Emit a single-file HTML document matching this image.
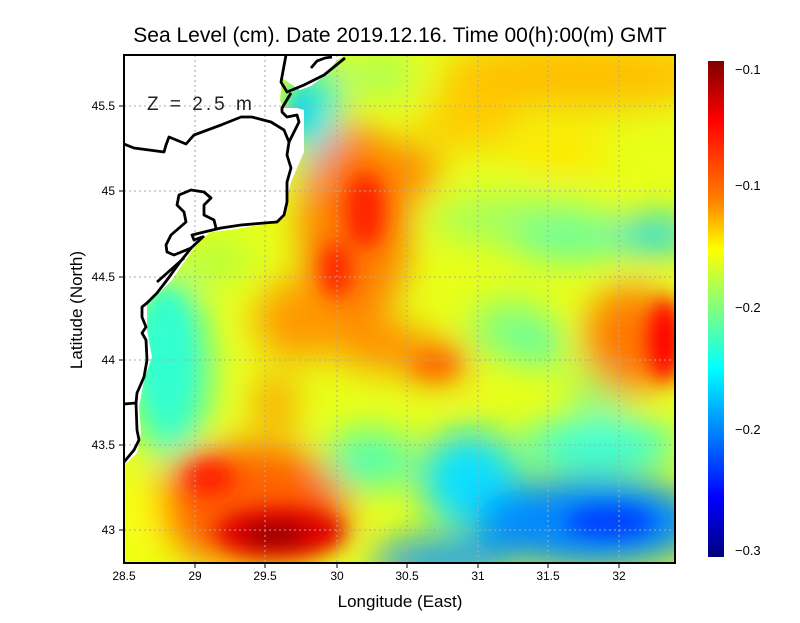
<!DOCTYPE html>
<html><head><meta charset="utf-8"><style>
html,body{margin:0;padding:0;background:#fff;}
body{width:800px;height:618px;overflow:hidden;font-family:"Liberation Sans",sans-serif;}
</style></head><body>
<svg width="800" height="618" xmlns="http://www.w3.org/2000/svg" font-family="Liberation Sans, sans-serif">
<defs>
<clipPath id="pc"><rect x="124" y="55" width="551" height="508"/></clipPath>
<filter id="b" x="-50%" y="-50%" width="200%" height="200%"><feGaussianBlur stdDeviation="18"/></filter>
<filter id="b2" x="-50%" y="-50%" width="200%" height="200%"><feGaussianBlur stdDeviation="10"/></filter>
<linearGradient id="cb" x1="0" y1="0" x2="0" y2="1">
<stop offset="0" stop-color="#7f0000"/>
<stop offset="0.12" stop-color="#ff0000"/>
<stop offset="0.28" stop-color="#ff8000"/>
<stop offset="0.38" stop-color="#ffff00"/>
<stop offset="0.5" stop-color="#80ff80"/>
<stop offset="0.62" stop-color="#00ffff"/>
<stop offset="0.75" stop-color="#0080ff"/>
<stop offset="0.88" stop-color="#0000ff"/>
<stop offset="1" stop-color="#00007f"/>
</linearGradient>
</defs>
<text x="400" y="42" text-anchor="middle" font-size="21" fill="#000">Sea Level (cm). Date 2019.12.16. Time 00(h):00(m) GMT</text>
<g clip-path="url(#pc)">
<rect x="124" y="55" width="551" height="508" fill="#e8ff18"/>
<g filter="url(#b)">
<ellipse cx="580" cy="75" rx="140" ry="35" fill="#ffc000"/>
<ellipse cx="470" cy="120" rx="50" ry="30" fill="#ffcc00"/>
<ellipse cx="560" cy="150" rx="50" ry="25" fill="#ffe800"/>
<ellipse cx="380" cy="75" rx="35" ry="20" fill="#a0ff60"/>
<ellipse cx="520" cy="220" rx="90" ry="25" fill="#a0ff60"/>
<ellipse cx="570" cy="240" rx="60" ry="20" fill="#60ffa0"/>
<ellipse cx="655" cy="235" rx="40" ry="18" fill="#10d8ff"/>
<ellipse cx="510" cy="330" rx="40" ry="30" fill="#80ff80"/>
<ellipse cx="540" cy="345" rx="25" ry="20" fill="#50ffb0"/>
<ellipse cx="600" cy="390" rx="30" ry="30" fill="#90ff70"/>
<ellipse cx="318" cy="130" rx="22" ry="70" fill="#00e8ff"/>
<ellipse cx="355" cy="225" rx="55" ry="100" fill="#ff7c00"/>
<ellipse cx="410" cy="170" rx="28" ry="28" fill="#ff8800"/>
<ellipse cx="300" cy="320" rx="45" ry="40" fill="#ff9800"/>
<ellipse cx="380" cy="345" rx="45" ry="25" fill="#ff9000"/>
<ellipse cx="435" cy="362" rx="35" ry="20" fill="#ff7800"/>
<ellipse cx="275" cy="405" rx="20" ry="30" fill="#ff9c00"/>
<ellipse cx="170" cy="370" rx="40" ry="90" fill="#30ffd0"/>
<ellipse cx="215" cy="260" rx="40" ry="20" fill="#b0ff40"/>
<ellipse cx="630" cy="340" rx="45" ry="55" fill="#ff7800"/>
<ellipse cx="250" cy="505" rx="100" ry="60" fill="#ff6000"/>
<ellipse cx="370" cy="460" rx="45" ry="30" fill="#50ffb0"/>
<ellipse cx="470" cy="480" rx="50" ry="50" fill="#10e0ff"/>
<ellipse cx="600" cy="445" rx="80" ry="25" fill="#30ffe0"/>
<ellipse cx="590" cy="522" rx="115" ry="45" fill="#0088ff"/>
<ellipse cx="440" cy="560" rx="70" ry="20" fill="#1098ff"/>
<ellipse cx="145" cy="520" rx="20" ry="40" fill="#ffff10"/>
</g>
<g filter="url(#b2)">
<ellipse cx="365" cy="210" rx="20" ry="38" fill="#ff2000"/>
<ellipse cx="336" cy="270" rx="16" ry="28" fill="#ff2800"/>
<ellipse cx="665" cy="340" rx="18" ry="42" fill="#ff0000"/>
<ellipse cx="280" cy="532" rx="65" ry="25" fill="#e00000"/>
<ellipse cx="275" cy="535" rx="32" ry="13" fill="#9a0000"/>
<ellipse cx="210" cy="478" rx="25" ry="18" fill="#ff2000"/>
<ellipse cx="610" cy="522" rx="45" ry="16" fill="#0040ff"/>
<ellipse cx="435" cy="365" rx="22" ry="12" fill="#ff6a00"/>
<ellipse cx="300" cy="110" rx="10" ry="25" fill="#00d0ff"/>
<ellipse cx="165" cy="350" rx="20" ry="60" fill="#30ffd0"/>
</g>
<polygon fill="#fff" points="124,55 345,55 337,60 324,76 311,86 300,90 282,78 280,100 283,108 297,108 304,110 304,152 297,168 291,182 287,198 284,218 260,225 230,230 211,232 200,240 191,252 180,268 172,280 160,292 147,305 147,330 152,357 144,380 139,407 141,433 137,453 127,463 124,463"/>
<g stroke="#aaa" stroke-width="1" stroke-dasharray="2,3">
<line x1="195" y1="55" x2="195" y2="563"/><line x1="265" y1="55" x2="265" y2="563"/><line x1="337" y1="55" x2="337" y2="563"/><line x1="407" y1="55" x2="407" y2="563"/><line x1="478" y1="55" x2="478" y2="563"/><line x1="548" y1="55" x2="548" y2="563"/><line x1="619" y1="55" x2="619" y2="563"/>
<line x1="124" y1="106" x2="675" y2="106"/><line x1="124" y1="191" x2="675" y2="191"/><line x1="124" y1="277" x2="675" y2="277"/><line x1="124" y1="360" x2="675" y2="360"/><line x1="124" y1="445" x2="675" y2="445"/><line x1="124" y1="530" x2="675" y2="530"/>
</g>
<g fill="none" stroke="#000" stroke-width="2.8" stroke-linejoin="round">
<polyline points="286,55 281,82 287,92 304,85 324,75 345,58"/>
<polyline points="311,68 317,61 325,58 332,57"/>
<polyline points="291,93 282,108 282,112 287,117 297,115 299,122 289,142"/>
<polyline points="124,144 134,148 164,152 166,145 169,137 186,144 194,135 221,125 241,117 252,117 271,122 284,130 289,142 287,155 291,168 287,182 287,202 284,215 277,222 264,223 241,225 221,228 204,232 192,235 194,240 202,237"/>
<polyline points="216,228 214,220 204,215 204,205 211,198 204,192 191,190 179,195 177,205 184,212 186,222 171,235 166,245 167,252 174,255 191,248 204,236"/>
<polyline points="184,258 157,282"/>
<polyline points="192,247 180,262 167,280 157,293 147,303 142,307 142,317 146,327 142,333 146,340 147,360 144,377 137,393 136,403 137,430 139,440 134,450 124,462"/>
<polyline points="124,404 136,403"/>
</g>
</g>
<rect x="124" y="55" width="551" height="508" fill="none" stroke="#000" stroke-width="2"/>
<text x="147" y="110" font-size="19" fill="#222" letter-spacing="3">Z = 2.5 m</text>
<g stroke="#000" stroke-width="1">
<line x1="195" y1="563" x2="195" y2="568"/><line x1="265" y1="563" x2="265" y2="568"/><line x1="337" y1="563" x2="337" y2="568"/><line x1="407" y1="563" x2="407" y2="568"/><line x1="478" y1="563" x2="478" y2="568"/><line x1="548" y1="563" x2="548" y2="568"/><line x1="619" y1="563" x2="619" y2="568"/>
<line x1="119" y1="106" x2="124" y2="106"/><line x1="119" y1="191" x2="124" y2="191"/><line x1="119" y1="277" x2="124" y2="277"/><line x1="119" y1="360" x2="124" y2="360"/><line x1="119" y1="445" x2="124" y2="445"/><line x1="119" y1="530" x2="124" y2="530"/>
</g>
<g font-size="12" fill="#000" text-anchor="middle">
<text x="124" y="580">28.5</text><text x="195" y="580">29</text><text x="265" y="580">29.5</text><text x="337" y="580">30</text><text x="407" y="580">30.5</text><text x="478" y="580">31</text><text x="548" y="580">31.5</text><text x="619" y="580">32</text>
</g>
<g font-size="12" fill="#000" text-anchor="end">
<text x="115" y="110">45.5</text><text x="115" y="195">45</text><text x="115" y="281">44.5</text><text x="115" y="364">44</text><text x="115" y="449">43.5</text><text x="115" y="534">43</text>
</g>
<text x="400" y="607" text-anchor="middle" font-size="17">Longitude (East)</text>
<text transform="translate(82,310) rotate(-90)" text-anchor="middle" font-size="17">Latitude (North)</text>
<rect x="708" y="61" width="16" height="496" fill="url(#cb)"/>
<g font-size="13" fill="#000">
<text x="735" y="74">−0.1</text><text x="735" y="190">−0.1</text><text x="735" y="312">−0.2</text><text x="735" y="434">−0.2</text><text x="735" y="555">−0.3</text>
</g>
</svg>
</body></html>
